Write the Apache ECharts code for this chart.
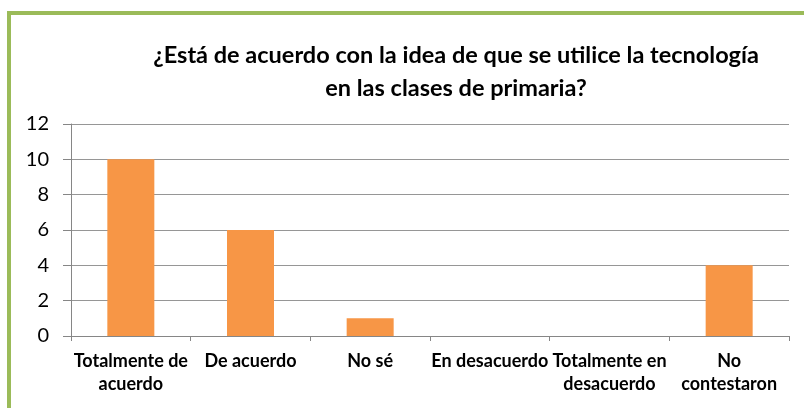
<!DOCTYPE html>
<html><head><meta charset="utf-8">
<script src="https://cdn.jsdelivr.net/npm/echarts@6/dist/echarts.min.js"></script>
<style>html,body{margin:0;padding:0;background:#fff}#c{width:804px;height:408px}</style>
</head><body><div id="c"></div>
<script>
const titleLines = ["¿Está de acuerdo con la idea de que se utilice la tecnología", "en las clases de primaria?"];
const categories = ["Totalmente de\nacuerdo", "De acuerdo", "No sé", "En desacuerdo", "Totalmente en\ndesacuerdo", "No\ncontestaron"];
const values = [10, 6, 1, 0, 0, 4];
const yTicks = {min: 0, max: 12, interval: 2};

const chart = echarts.init(document.getElementById('c'));
chart.setOption({
  animation: false,
  graphic: [
    {type: 'rect', shape: {x: 9, y: 13, width: 820, height: 420}, style: {fill: 'none', stroke: '#9BBB59', lineWidth: 4}, silent: true}
  ],
  title: {
    text: titleLines.join('\n'),
    left: 451, top: 34, textAlign: 'center',
    textStyle: {fontFamily: 'Lato', fontWeight: 'bold', fontSize: 23.5, lineHeight: 33, color: '#000'}
  },
  grid: {left: 71, right: 15, top: 124, bottom: 72, containLabel: false},
  xAxis: {
    type: 'category', data: categories,
    axisLine: {lineStyle: {color: '#868686', width: 1}},
    axisTick: {show: true, length: 5, lineStyle: {color: '#868686'}},
    axisLabel: {interval: 0, margin: 14, color: '#000', fontFamily: 'Lato', fontWeight: 'bold', fontSize: 18, lineHeight: 23}
  },
  yAxis: {
    type: 'value', min: yTicks.min, max: yTicks.max, interval: yTicks.interval,
    axisLine: {show: true, lineStyle: {color: '#868686'}},
    axisTick: {show: true, length: 8, inside: false, lineStyle: {color: '#868686'}},
    splitLine: {lineStyle: {color: '#969696', width: 1}},
    axisLabel: {margin: 22, color: '#000', fontFamily: 'Lato', fontSize: 20}
  },
  series: [{
    type: 'bar', data: values, barWidth: 47,
    itemStyle: {color: '#F79646'}
  }]
});
</script></body></html>
